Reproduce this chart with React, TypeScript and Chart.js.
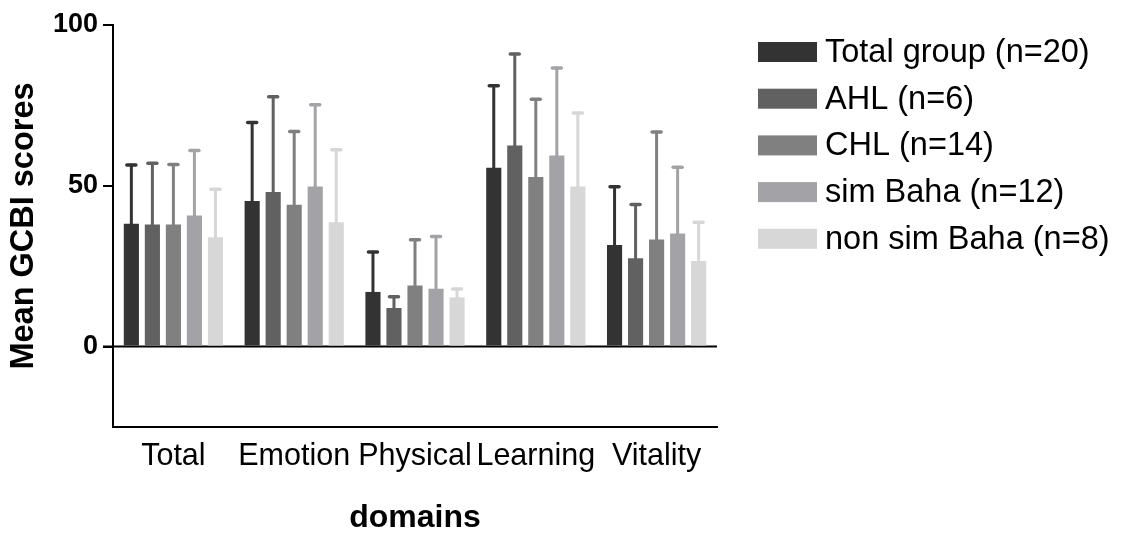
import React, { useEffect, useRef } from 'react';
import { Chart, registerables } from 'chart.js';

Chart.register(...registerables);

const categories = ['Total', 'Emotion', 'Physical', 'Learning', 'Vitality'];
const seriesNames = ['Total group (n=20)', 'AHL (n=6)', 'CHL (n=14)', 'sim Baha (n=12)', 'non sim Baha (n=8)'];
const seriesColors = ['#333333', '#616161', '#808080', '#a3a3a7', '#d7d7d7'];

const totalGroupMean = [38.2, 45.3, 17.0, 55.6, 31.6];
const totalGroupSD = [18.3, 24.4, 12.4, 25.5, 18.1];
const ahlMean = [38.0, 48.1, 12.0, 62.5, 27.5];
const ahlSD = [19.0, 29.6, 3.5, 28.5, 16.7];
const chlMean = [38.0, 44.1, 19.0, 52.7, 33.3];
const chlSD = [18.6, 22.8, 14.2, 24.2, 33.4];
const simBahaMean = [40.8, 49.8, 18.0, 59.4, 35.2];
const simBahaSD = [20.2, 25.4, 16.2, 27.2, 20.6];
const nonSimBahaMean = [34.0, 38.7, 15.3, 49.8, 26.6];
const nonSimBahaSD = [14.9, 22.5, 2.6, 22.8, 12.1];

const yTicks = [0, 50, 100];
const yMin = -25;
const yMax = 100;

const FONT = '"Liberation Sans", Arial, Helvetica, sans-serif';

const means = [totalGroupMean, ahlMean, chlMean, simBahaMean, nonSimBahaMean];
const sds = [totalGroupSD, ahlSD, chlSD, simBahaSD, nonSimBahaSD];

const zeroLinePlugin = {
  id: 'zeroLine',
  beforeDatasetsDraw(chart: any) {
    const { ctx, chartArea } = chart;
    const y = chart.scales.y.getPixelForValue(0);
    ctx.save();
    ctx.strokeStyle = '#000';
    ctx.lineWidth = 2;
    ctx.beginPath();
    ctx.moveTo(chartArea.left - 10, y);
    ctx.lineTo(chartArea.right, y);
    ctx.stroke();
    ctx.restore();
  },
};

const errorBarPlugin = {
  id: 'errorBars',
  afterDatasetsDraw(chart: any) {
    const { ctx } = chart;
    const yScale = chart.scales.y;
    chart.data.datasets.forEach((ds: any, di: number) => {
      const meta = chart.getDatasetMeta(di);
      meta.data.forEach((bar: any, i: number) => {
        const top = yScale.getPixelForValue(ds.data[i] + ds.errors[i]);
        ctx.save();
        ctx.strokeStyle = ds.backgroundColor;
        ctx.lineCap = 'round';
        ctx.lineWidth = 3;
        ctx.beginPath();
        ctx.moveTo(bar.x, bar.y);
        ctx.lineTo(bar.x, top);
        ctx.stroke();
        ctx.lineWidth = 3.5;
        ctx.beginPath();
        ctx.moveTo(bar.x - 4.5, top);
        ctx.lineTo(bar.x + 4.5, top);
        ctx.stroke();
        ctx.restore();
      });
    });
  },
};

const legendPlugin = {
  id: 'customLegend',
  afterDraw(chart: any) {
    const { ctx } = chart;
    const x0 = 758;
    const y0 = 42;
    const step = 46.7;
    ctx.save();
    chart.data.datasets.forEach((ds: any, i: number) => {
      const top = y0 + i * step;
      ctx.fillStyle = ds.backgroundColor;
      ctx.fillRect(x0, top, 59, 20);
      ctx.fillStyle = '#000';
      ctx.font = `32.5px ${FONT}`;
      ctx.textBaseline = 'middle';
      ctx.textAlign = 'left';
      ctx.fillText(ds.label, x0 + 67, top + 11);
    });
    ctx.restore();
  },
};

export default function App() {
  const ref = useRef<HTMLCanvasElement | null>(null);

  useEffect(() => {
    document.body.style.margin = '0';
    const canvas = ref.current;
    if (!canvas) return;
    const chart = new Chart(canvas, {
      type: 'bar',
      data: {
        labels: categories,
        datasets: seriesNames.map((name, i) => ({
          label: name,
          data: means[i],
          errors: sds[i],
          backgroundColor: seriesColors[i],
          borderWidth: 0,
          categoryPercentage: 0.87,
          barPercentage: 0.72,
        })) as any,
      },
      options: {
        responsive: false,
        animation: false,
        layout: { padding: { left: 0, top: 25, right: 404, bottom: 0 } },
        plugins: {
          legend: { display: false },
          tooltip: { enabled: false },
        },
        scales: {
          x: {
            grid: { display: true, drawOnChartArea: false, drawTicks: false },
            border: { display: true, color: '#000', width: 2 },
            ticks: {
              font: { size: 30.5, family: FONT },
              color: '#000',
              padding: 11,
              maxRotation: 0,
              autoSkip: false,
            },
            title: {
              display: true,
              text: 'domains',
              color: '#000',
              font: { size: 32, weight: 'bold', family: FONT, lineHeight: 1 },
              padding: { top: 0, bottom: 0 },
            },
            afterFit: (s: any) => {
              s.height = 107;
            },
          },
          y: {
            min: yMin,
            max: yMax,
            afterBuildTicks: (s: any) => {
              s.ticks = yTicks.map((v) => ({ value: v }));
            },
            grid: { drawOnChartArea: false, drawTicks: true, tickLength: 10, color: '#000', lineWidth: 2 },
            border: { display: true, color: '#000', width: 2 },
            ticks: {
              font: { size: 27, weight: 'bold', family: FONT },
              color: '#000',
              padding: 5,
            },
            title: {
              display: true,
              text: 'Mean GCBI scores',
              color: '#000',
              font: { size: 32.5, weight: 'bold', family: FONT, lineHeight: 1 },
              padding: { top: 8, bottom: 0 },
            },
            afterFit: (s: any) => {
              s.width = 113;
            },
          },
        },
      } as any,
      plugins: [zeroLinePlugin, errorBarPlugin, legendPlugin],
    });
    return () => chart.destroy();
  }, []);

  return <canvas ref={ref} width={1121} height={534} style={{ display: 'block' }} />;
}
